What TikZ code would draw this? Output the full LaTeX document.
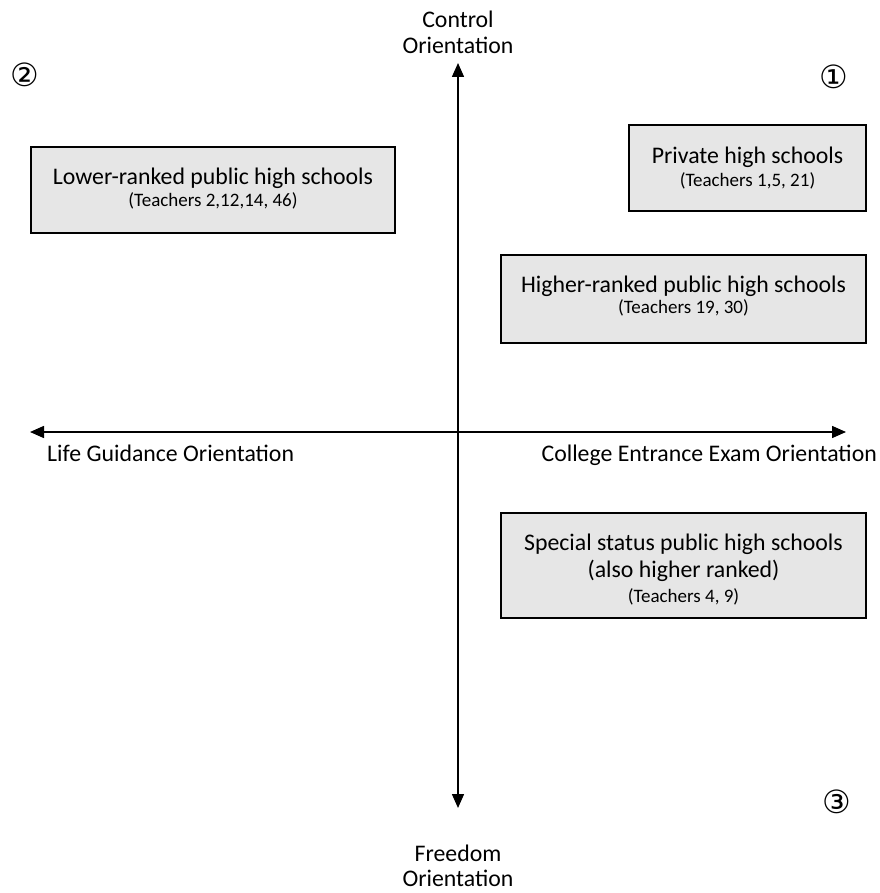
\documentclass[tikz,border=0pt]{standalone}
\usepackage{fontspec}
\setmainfont{Carlito}
\newfontfamily\circfont{DejaVu Sans}
\usetikzlibrary{arrows.meta}
\definecolor{boxgray}{HTML}{E6E6E6}
\tikzset{
  schoolbox/.style={draw=black, line width=1.3pt, fill=boxgray, inner sep=0pt},
  axis/.style={line width=1.5pt, {Triangle[length=14pt,width=12pt]}-{Triangle[length=14pt,width=12pt]}},
  bigtext/.style={font=\fontsize{23.8}{26}\selectfont, inner sep=0pt, anchor=base},
  smalltext/.style={font=\fontsize{19}{22}\selectfont, inner sep=0pt, anchor=base},
  circnum/.style={font=\circfont\fontsize{32}{32}\selectfont, inner sep=0pt},
}
\begin{document}
\begin{tikzpicture}[x=1pt,y=-1pt]
\useasboundingbox (0,0) rectangle (879,893);
% axes
\coordinate (vtop) at (458,63);
\coordinate (vbot) at (458,808);
\coordinate (hl) at (30,432);
\coordinate (hr) at (846,432);
\draw[axis] (vbot) -- (vtop);
\draw[axis] (hl) -- (hr);
% axis labels
\node[bigtext] (ctrl1) at (458,28) {Control};
\node[bigtext] (ctrl2) at (458,54) {Orientation};
\node[bigtext] (free1) at (458,861) {Freedom};
\node[bigtext] (free2) at (458,886) {Orientation};
\node[bigtext, anchor=base west] (life) at (47,461) {Life Guidance Orientation};
\node[bigtext, anchor=base east] (college) at (877,461) {College Entrance Exam Orientation};
% quadrant numbers
\node[circnum] (q2) at (25,75) {②};
\node[circnum] (q1) at (834,77) {①};
\node[circnum] (q3) at (837,802) {③};
% boxes
\node[schoolbox, minimum width=364pt, minimum height=86pt] (lower) at (213,190) {};
\node[schoolbox, minimum width=237pt, minimum height=86pt] (private) at (747.5,168) {};
\node[schoolbox, minimum width=365pt, minimum height=88pt] (higher) at (683.5,299) {};
\node[schoolbox, minimum width=365pt, minimum height=105pt] (special) at (683.5,565.5) {};
% box texts
\node[bigtext] (lowerA) at (213,185) {Lower-ranked public high schools};
\node[smalltext] (lowerB) at (213,207) {(Teachers 2,12,14, 46)};
\node[bigtext] (privA) at (747.5,164) {Private high schools};
\node[smalltext] (privB) at (747.5,187) {(Teachers 1,5, 21)};
\node[bigtext] (highA) at (683.5,292) {Higher-ranked public high schools};
\node[smalltext] (highB) at (683.5,313) {(Teachers 19, 30)};
\node[bigtext] (specA) at (683.5,550) {Special status public high schools};
\node[bigtext] (specB) at (683.5,577) {(also higher ranked)};
\node[smalltext] (specC) at (683.5,602) {(Teachers 4, 9)};
\end{tikzpicture}
\end{document}
